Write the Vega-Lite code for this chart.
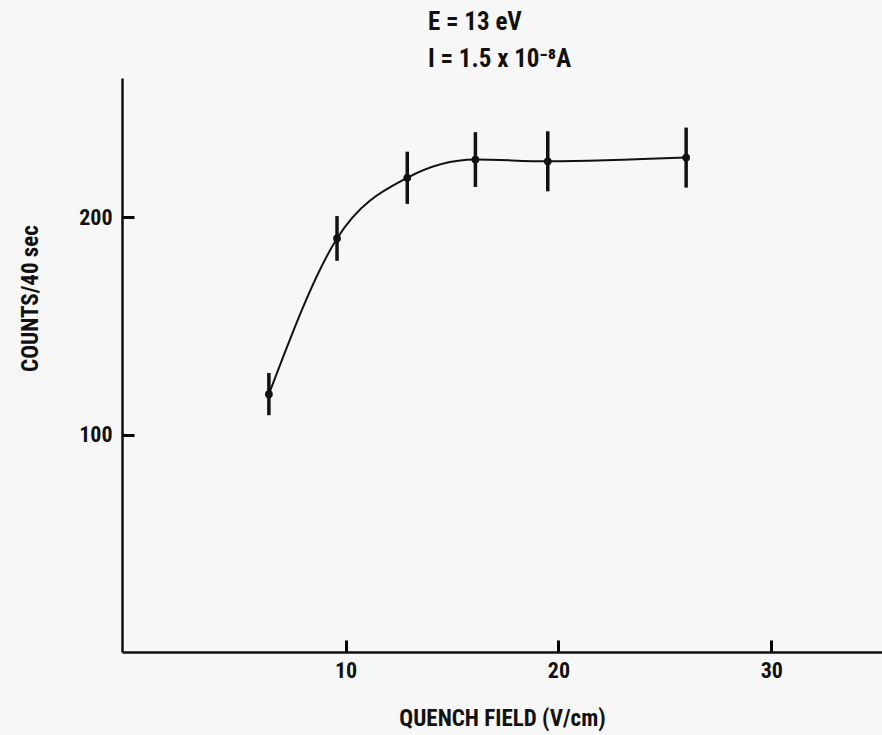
{
  "$schema": "https://vega.github.io/schema/vega-lite/v6.json",
  "autosize": {"type": "none"},
  "width": 760,
  "height": 574,
  "padding": {"left": 122, "top": 78, "right": 0, "bottom": 83},
  "background": "#f7f7f7",
  "title": {
    "text": ["E = 13 eV", "I = 1.5 x 10⁻⁸A"],
    "anchor": "start",
    "frame": "group",
    "dx": 306,
    "align": "left",
    "font": "Roboto Condensed, Roboto, sans-serif",
    "fontSize": 25,
    "fontWeight": "bold",
    "lineHeight": 37,
    "color": "#111",
    "offset": 6
  },
  "config": {
    "view": {"stroke": null},
    "axis": {
      "grid": false,
      "ticks": true,
      "domainColor": "#111",
      "domainWidth": 2.5,
      "tickColor": "#000000",
      "tickWidth": 3,
      "tickOpacity": 1,
      "labelFont": "Roboto Condensed, Roboto, sans-serif",
      "labelFontWeight": "bold",
      "labelFontSize": 22,
      "labelColor": "#111",
      "titleFont": "Roboto Condensed, Roboto, sans-serif",
      "titleFontWeight": "bold",
      "titleFontSize": 23,
      "titleColor": "#111"
    }
  },
  "data": {
    "values": [
      {"field": 6.4, "counts": 118.6, "err": 9.7},
      {"field": 9.6, "counts": 190.2, "err": 10.3},
      {"field": 12.9, "counts": 218.1, "err": 12.0},
      {"field": 16.1, "counts": 226.5, "err": 12.6},
      {"field": 19.5, "counts": 225.7, "err": 13.8},
      {"field": 26.0, "counts": 227.4, "err": 13.8}
    ]
  },
  "encoding": {
    "x": {
      "field": "field",
      "type": "quantitative",
      "scale": {"domain": [-0.5, 35.2], "nice": false, "zero": false},
      "axis": {
        "values": [10, 20, 30],
        "tickSize": -12,
        "labelPadding": 20,
        "title": "QUENCH FIELD (V/cm)",
        "titlePadding": 26
      }
    },
    "y": {
      "field": "counts",
      "type": "quantitative",
      "scale": {"domain": [0, 264], "nice": false},
      "axis": {
        "values": [100, 200],
        "tickSize": -12,
        "labelPadding": 22,
        "title": "COUNTS/40 sec",
        "titleX": -92,
        "titleY": 220,
        "titleAlign": "center",
        "titleBaseline": "middle"
      }
    }
  },
  "layer": [
    {
      "mark": {"type": "line", "interpolate": "monotone", "color": "#111", "strokeWidth": 2}
    },
    {
      "mark": {"type": "errorbar", "color": "#111", "thickness": 3.5},
      "encoding": {
        "y": {"field": "counts", "type": "quantitative"},
        "yError": {"field": "err"}
      }
    },
    {
      "mark": {"type": "point", "filled": true, "color": "#111", "size": 60, "opacity": 1}
    }
  ]
}
